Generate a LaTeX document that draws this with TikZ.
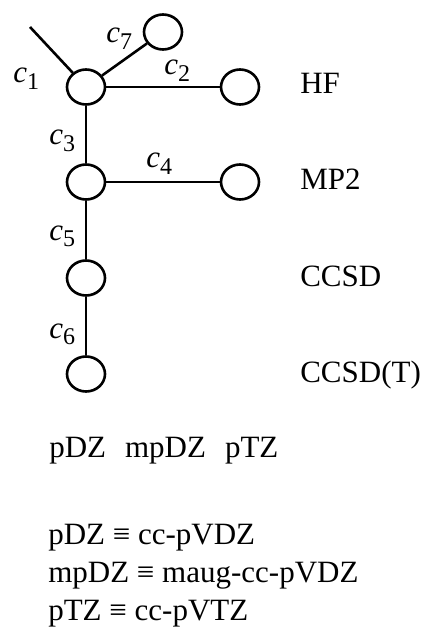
\documentclass[tikz,border=0pt]{standalone}
\usepackage{fontspec}
\setmainfont{Liberation Serif}
\usetikzlibrary{shapes.geometric}
\newcommand{\cl}[1]{\textit{c}\raisebox{-6.5pt}{\fontsize{24}{24}\selectfont #1}}
\begin{document}
\begin{tikzpicture}[x=1pt,y=-1pt,line width=2.6pt,
  orb/.style={draw,ellipse,minimum width=38pt,minimum height=35pt,inner sep=0pt},
  lab/.style={font=\fontsize{31}{31}\selectfont,inner sep=0pt,anchor=base west},
  txt/.style={font=\fontsize{31}{31}\selectfont,inner sep=0pt,anchor=base west}]
\useasboundingbox (0,0) rectangle (425,628);
\node[orb] (a) at (86,87) {};
\node[orb] (g) at (163,32) {};
\node[orb] (hf) at (240,87) {};
\node[orb] (b) at (86,182) {};
\node[orb] (mp) at (240,182) {};
\node[orb] (c) at (86,278) {};
\node[orb] (d) at (86,374) {};
\coordinate (top) at (30,27);
\draw (top) -- (a);
\draw (a) -- (g);
\draw (a.east) -- (hf.west);
\draw (a) -- (b);
\draw (b.east) -- (mp.west);
\draw (b) -- (c);
\draw (c) -- (d);
\node[lab] (l1) at (12,83) {\cl{1}};
\node[lab] (l7) at (105,43) {\cl{7}};
\node[lab] (l2) at (163,75) {\cl{2}};
\node[lab] (l3) at (48,145) {\cl{3}};
\node[lab] (l4) at (145,168) {\cl{4}};
\node[lab] (l5) at (48,240) {\cl{5}};
\node[lab] (l6) at (48,338) {\cl{6}};
\node[txt] (thf) at (299,94) {HF};
\node[txt] (tmp) at (299,190) {MP2};
\node[txt] (tcc) at (299,286) {CCSD};
\node[txt] (tct) at (299,382) {CCSD(T)};
\node[txt] (basis) at (48,457) {pDZ\hspace{19pt}mpDZ\hspace{19pt}pTZ};
\node[txt] (d1) at (47,544) {pDZ ≡ cc-pVDZ};
\node[txt] (d2) at (47,582) {mpDZ ≡ maug-cc-pVDZ};
\node[txt] (d3) at (47,620) {pTZ ≡ cc-pVTZ};
\end{tikzpicture}
\end{document}
